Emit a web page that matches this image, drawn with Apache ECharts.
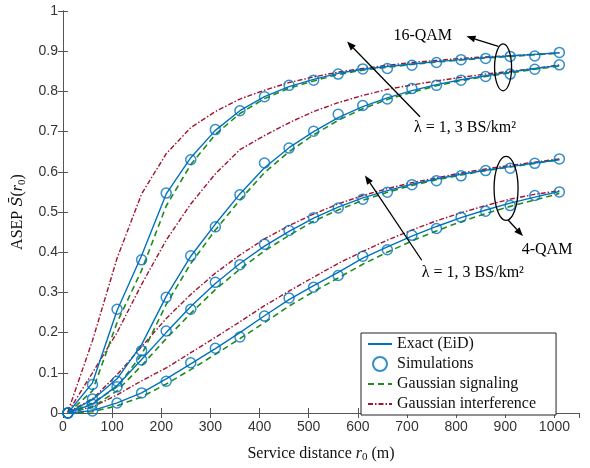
<!DOCTYPE html>
<html><head><meta charset="utf-8">
<script src="https://cdn.jsdelivr.net/npm/echarts@6/dist/echarts.min.js"></script>
<style>html,body{margin:0;padding:0;background:#fff}#c{width:590px;height:468px}</style>
</head><body><div id="c"></div>
<script>
// Service distance samples (m)
const distances = [10,60,110,160,210,260,310,360,410,460,510,560,610,660,710,760,810,860,910,960,1010];
const xTicks = [0,100,200,300,400,500,600,700,800,900,1000];
const yTicks = [0,0.1,0.2,0.3,0.4,0.5,0.6,0.7,0.8,0.9,1];

// 16-QAM, lambda = 1 (upper group, steep curve)
const qam16a_exact = [0,0.075,0.255,0.392,0.545,0.635,0.703,0.752,0.787,0.812,0.830,0.845,0.855,0.862,0.868,0.874,0.879,0.884,0.888,0.892,0.896];
const qam16a_sim   = [0,0.071,0.258,0.381,0.547,0.630,0.705,0.752,0.787,0.815,0.828,0.843,0.856,0.857,0.865,0.872,0.879,0.882,0.887,0.888,0.897];
const qam16a_gsig  = [0,0.055,0.225,0.355,0.515,0.618,0.693,0.745,0.782,0.808,0.826,0.842,0.853,0.860,0.867,0.873,0.878,0.883,0.887,0.891,0.895];
const qam16a_gint  = [0.003,0.18,0.385,0.545,0.645,0.71,0.75,0.781,0.803,0.822,0.836,0.848,0.857,0.865,0.872,0.877,0.882,0.886,0.889,0.892,0.896];
// 16-QAM, lambda = 3
const qam16b_exact = [0,0.033,0.085,0.17,0.29,0.39,0.47,0.545,0.61,0.66,0.70,0.735,0.762,0.784,0.802,0.817,0.829,0.839,0.848,0.857,0.864];
const qam16b_sim   = [0,0.035,0.079,0.155,0.288,0.391,0.463,0.543,0.622,0.659,0.701,0.743,0.765,0.781,0.807,0.815,0.828,0.837,0.843,0.855,0.866];
const qam16b_gsig  = [0,0.025,0.065,0.145,0.27,0.372,0.455,0.53,0.598,0.65,0.692,0.728,0.757,0.78,0.798,0.814,0.827,0.837,0.846,0.855,0.863];
const qam16b_gint  = [0.002,0.10,0.20,0.32,0.43,0.52,0.595,0.655,0.69,0.722,0.75,0.772,0.79,0.805,0.816,0.826,0.835,0.843,0.85,0.857,0.866];
// 4-QAM, lambda = 1
const qam4a_exact = [0,0.022,0.068,0.133,0.2,0.265,0.322,0.372,0.415,0.452,0.485,0.512,0.535,0.553,0.569,0.582,0.594,0.604,0.613,0.622,0.63];
const qam4a_sim   = [0,0.022,0.065,0.132,0.204,0.258,0.325,0.369,0.42,0.454,0.486,0.51,0.532,0.549,0.568,0.578,0.59,0.603,0.609,0.621,0.632];
const qam4a_gsig  = [0,0.015,0.055,0.118,0.185,0.248,0.307,0.358,0.403,0.442,0.477,0.505,0.529,0.549,0.566,0.58,0.592,0.603,0.612,0.621,0.63];
const qam4a_gint  = [0.002,0.035,0.095,0.165,0.235,0.295,0.348,0.393,0.433,0.466,0.495,0.52,0.541,0.558,0.573,0.585,0.597,0.607,0.616,0.624,0.632];
// 4-QAM, lambda = 3
const qam4b_exact = [0,0.006,0.025,0.05,0.085,0.122,0.16,0.2,0.242,0.282,0.317,0.35,0.385,0.413,0.44,0.464,0.486,0.505,0.522,0.537,0.551];
const qam4b_sim   = [0,0.005,0.025,0.05,0.079,0.125,0.161,0.189,0.241,0.286,0.313,0.342,0.39,0.406,0.442,0.459,0.487,0.502,0.516,0.541,0.55];
const qam4b_gsig  = [0,0.003,0.018,0.04,0.072,0.108,0.146,0.185,0.225,0.266,0.302,0.336,0.37,0.4,0.428,0.453,0.476,0.496,0.514,0.53,0.546];
const qam4b_gint  = [0.002,0.015,0.045,0.08,0.112,0.15,0.188,0.227,0.267,0.303,0.338,0.372,0.402,0.43,0.455,0.478,0.498,0.516,0.532,0.544,0.553];

const NAMES = ['Exact (EiD)','Simulations','Gaussian signaling','Gaussian interference'];
const BLUE = '#0072BD', GREEN = '#1E8C1E', RED = '#A2142F';
const SERIF = '"Liberation Serif","DejaVu Serif",serif';
const SANS = '"Liberation Sans",Arial,sans-serif';

const pairs = arr => distances.map((x,i)=>[x,arr[i]]);
const groups = [
  [qam16a_exact,qam16a_sim,qam16a_gsig,qam16a_gint],
  [qam16b_exact,qam16b_sim,qam16b_gsig,qam16b_gint],
  [qam4a_exact,qam4a_sim,qam4a_gsig,qam4a_gint],
  [qam4b_exact,qam4b_sim,qam4b_gsig,qam4b_gint]
];
const series = [];
groups.forEach(g => {
  series.push({name:NAMES[3],type:'line',data:pairs(g[3]),symbol:'none',z:2,
    lineStyle:{color:RED,width:1.4,type:[5,2,1.5,2]},itemStyle:{color:RED}});
  series.push({name:NAMES[2],type:'line',data:pairs(g[2]),symbol:'none',z:3,
    lineStyle:{color:GREEN,width:1.6,type:[6,4]},itemStyle:{color:GREEN}});
  series.push({name:NAMES[0],type:'line',data:pairs(g[0]),symbol:'none',z:4,
    lineStyle:{color:BLUE,width:1.4},itemStyle:{color:BLUE}});
  series.push({name:NAMES[1],type:'scatter',data:pairs(g[1]),symbol:'circle',symbolSize:10,z:5,
    itemStyle:{color:'rgba(0,0,0,0)',borderColor:BLUE,borderWidth:1.5}});
});

const axisCommon = {
  axisLine:{show:true,lineStyle:{color:'#555',width:1}},
  axisTick:{show:true,inside:true,length:5,lineStyle:{color:'#555'}},
  splitLine:{show:false}
};
const noSym = {opacity:0};
const chart = echarts.init(document.getElementById('c'),null,{renderer:'canvas'});
chart.setOption({
  animation:false,
  backgroundColor:'#fff',
  grid:{left:63,right:11,top:11,bottom:51},
  legend:{
    data:[
      {name:NAMES[0],itemStyle:noSym},
      {name:NAMES[1]},
      {name:NAMES[2],itemStyle:noSym},
      {name:NAMES[3],itemStyle:noSym}
    ],
    orient:'vertical', left:361, top:333,
    itemWidth:24, itemHeight:14, itemGap:4, padding:[3,20,3,6],
    backgroundColor:'#fff', borderColor:'#222', borderWidth:1, borderRadius:0,
    textStyle:{fontFamily:SERIF,fontSize:16,color:'#111'}
  },
  xAxis:[
    Object.assign({type:'value',min:0,max:1050,interval:100,position:'bottom',
      name:'Service distance {i|r}{sub|0} (m)',nameLocation:'middle',nameGap:31,
      nameTextStyle:{fontFamily:SERIF,fontSize:16,color:'#111',
        rich:{i:{fontFamily:SERIF,fontStyle:'italic',fontSize:16,color:'#111'},
              sub:{fontFamily:SERIF,fontSize:11,color:'#111',padding:[8,0,0,0]}}},
      axisLabel:{fontFamily:SANS,fontSize:14,color:'#333',margin:7,showMaxLabel:false,
        formatter:v=> xTicks.indexOf(v)>=0 ? String(v) : ''}}, axisCommon),
    Object.assign({type:'value',min:0,max:1050,interval:100,position:'top',
      axisLabel:{show:false}}, axisCommon)
  ],
  yAxis:[
    Object.assign({type:'value',min:0,max:1,interval:0.1,position:'left',
      name:'ASEP {s|S\u0304}({i|r}{sub|0})',nameLocation:'middle',nameGap:33,
      nameTextStyle:{fontFamily:SERIF,fontSize:16,color:'#111',
        rich:{i:{fontFamily:SERIF,fontStyle:'italic',fontSize:16,color:'#111'},
              s:{fontFamily:'"DejaVu Serif",serif',fontStyle:'italic',fontSize:15,color:'#111'},
              sub:{fontFamily:SERIF,fontSize:11,color:'#111',padding:[8,0,0,0]}}},
      axisLabel:{fontFamily:SANS,fontSize:14,color:'#333',margin:5,
        formatter:v=>{ const t=yTicks.find(k=>Math.abs(k-v)<1e-9); return t===undefined?'':(t===0?'0':t===1?'1':t.toFixed(1)); }}}, axisCommon),
    Object.assign({type:'value',min:0,max:1,interval:0.1,position:'right',
      axisLabel:{show:false}}, axisCommon)
  ],
  series
});

// Annotations positioned in data coordinates
const P = (x,y)=>chart.convertToPixel({xAxisIndex:0,yAxisIndex:0},[x,y]);
const graphics = [];
function arrow(from,to){
  const a=P(from[0],from[1]), b=P(to[0],to[1]);
  const ang=Math.atan2(b[1]-a[1],b[0]-a[0]), L=9, W=3.5;
  const bx=b[0]-L*Math.cos(ang), by=b[1]-L*Math.sin(ang);
  graphics.push({type:'line',shape:{x1:a[0],y1:a[1],x2:bx,y2:by},style:{stroke:'#000',lineWidth:1.3},z:20});
  graphics.push({type:'polygon',shape:{points:[[b[0],b[1]],[bx+W*Math.sin(ang),by-W*Math.cos(ang)],[bx-W*Math.sin(ang),by+W*Math.cos(ang)]]},style:{fill:'#000'},z:20});
}
function ellipse(c,rx,ry){
  const p=P(c[0],c[1]);
  graphics.push({type:'ellipse',shape:{cx:p[0],cy:p[1],rx,ry},style:{fill:null,stroke:'#000',lineWidth:1.3},z:20});
}
function label(c,text,rich){
  const p=P(c[0],c[1]);
  graphics.push({type:'text',x:p[0],y:p[1],z:21,style:{text,align:'center',verticalAlign:'middle',
    font:'16px '+SERIF,fill:'#000',rich:rich||{}}});
}
const lamRich = {i:{fontFamily:SERIF,fontSize:16,fill:'#000'}};
ellipse([895.5,0.86],8.5,23.5);
arrow([886,0.912],[821,0.937]);
label([732,0.939],'16-QAM');
arrow([726.5,0.737],[578,0.924]);
label([818,0.71],'{i|\u03bb} = 1, 3 BS/km\u00b2',lamRich);
ellipse([901.6,0.559],12,32);
arrow([905.7,0.48],[936,0.44]);
label([985,0.407],'4-QAM');
arrow([730,0.38],[614.5,0.591]);
label([834,0.35],'{i|\u03bb} = 1, 3 BS/km\u00b2',lamRich);
chart.setOption({graphic:graphics});
</script>
</body></html>
